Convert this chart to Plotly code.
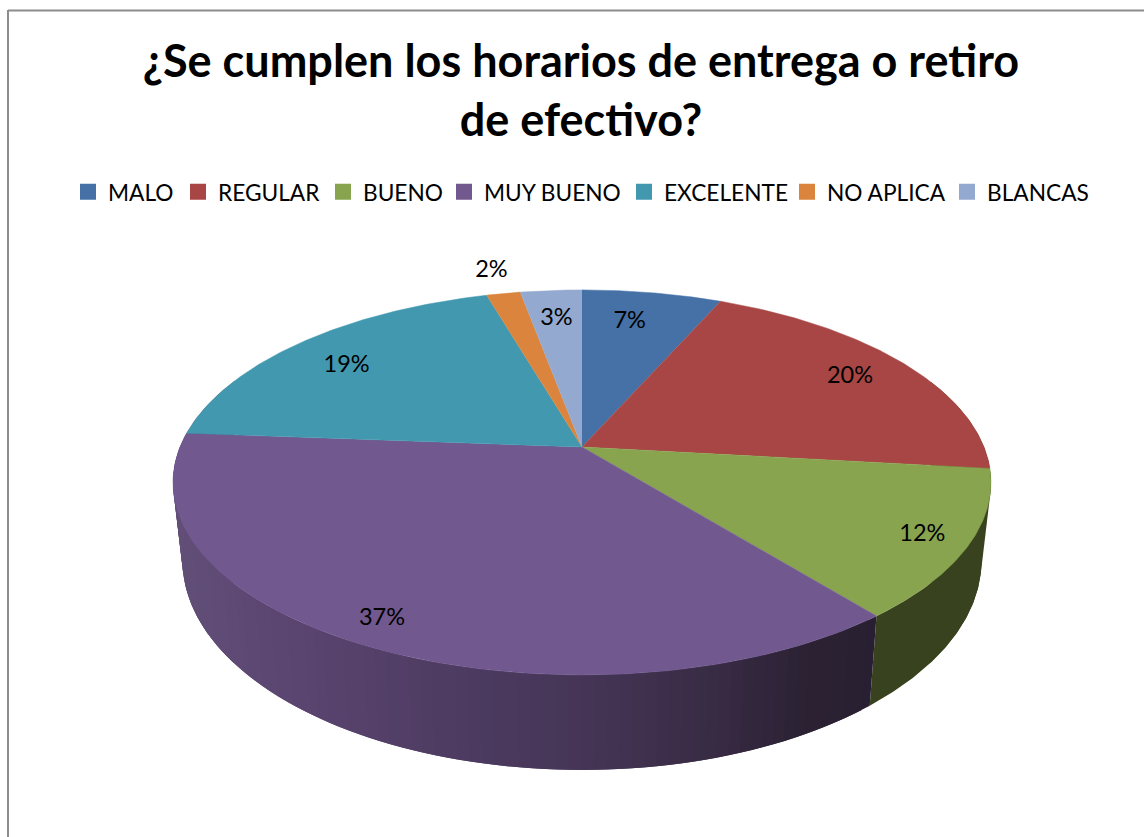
import numpy as np
import plotly.graph_objects as go

TITLE = "¿Se cumplen los horarios de entrega o retiro<br>de efectivo?"
categories = ["MALO", "REGULAR", "BUENO", "MUY BUENO", "EXCELENTE", "NO APLICA", "BLANCAS"]
percent = [6.6, 20.2, 12.4, 37.0, 19.3, 1.6, 2.9]
top_colors = ["#4571A6", "#A74644", "#88A44E", "#71588F", "#4198AF", "#DB843D", "#93A9CF"]
WALL_GREEN = "#38421E"
label_radius = [0.79, 0.827, 0.89, 0.894, 0.80, 1.186, 0.80]
label_turn_deg = [-2.0, 0.0, 0.0, 0.7, -1.9, 0.0, 0.0]
legend_text_left = [107, 217, 362, 483, 663, 826, 986]

# Pixel-scale projection of the tilted disc
CX, CY = 582, 447
A, B, P = 402, 186, 0.184
WALL_SX, WALL_SY, WALL_D = 0.977, 1.09, 74.5
FONT = "Lato"

grad_x = [180, 300, 450, 600, 720, 800, 880]
grad_r = [98, 90, 78, 68, 55, 44, 40]
grad_g = [79, 68, 60, 52, 42, 34, 32]
grad_b = [120, 112, 98, 84, 66, 52, 50]


def project(theta, r=1.0):
    u, v = r * np.sin(theta), r * np.cos(theta)
    w = 1 + P * v
    return CX + A * u / w, CY - B * v / w


def project_bottom(theta):
    x, y = project(theta)
    return CX + WALL_SX * (x - CX), CY + WALL_D + WALL_SY * (y - CY)


def wall_color(x):
    return "rgb(%d,%d,%d)" % (np.interp(x, grad_x, grad_r),
                              np.interp(x, grad_x, grad_g),
                              np.interp(x, grad_x, grad_b))


def polygon(xs, ys, color, width=0.0):
    return go.Scatter(x=list(xs), y=list(ys), mode="lines", fill="toself", fillcolor=color,
                      line=dict(color=color, width=width), hoverinfo="skip", showlegend=False)


def convex_hull(points):
    pts = sorted(set(points))

    def half(seq):
        out = []
        for p in seq:
            while len(out) > 1 and ((out[-1][0] - out[-2][0]) * (p[1] - out[-2][1])
                                    - (out[-1][1] - out[-2][1]) * (p[0] - out[-2][0])) <= 0:
                out.pop()
            out.append(p)
        return out[:-1]

    return half(pts) + half(pts[::-1])


fig = go.Figure()
edges = 2 * np.pi * np.concatenate([[0], np.cumsum(percent)]) / sum(percent)

# Side silhouette slivers: the straight tangents between the upper and lower rim
ring = np.linspace(0, 2 * np.pi, 720)
hull = convex_hull(list(zip(*project(ring))) + list(zip(*project_bottom(ring))))
right = [p for p in hull if p[0] > 930]
left = [p for p in hull if p[0] < 235]
right.sort(key=lambda p: p[1])
left.sort(key=lambda p: p[1])
fig.add_trace(polygon(*zip(*right), WALL_GREEN))
fig.add_trace(polygon(*zip(*left), wall_color(195)))

# Outer wall, green slice
seg = np.linspace(edges[2], edges[3], 80)
xt, yt = project(seg)
xb, yb = project_bottom(seg)
fig.add_trace(polygon(np.concatenate([xt, xb[::-1]]), np.concatenate([yt, yb[::-1]]), WALL_GREEN))

# Outer wall, purple slice with its left-to-right shading (each strip overlapping the next)
ts = np.linspace(edges[3], edges[4], 90)
for k in range(len(ts) - 2):
    seg = np.linspace(ts[k], ts[k + 2], 5)
    xt, yt = project(seg)
    xb, yb = project_bottom(seg)
    xs = np.concatenate([xt, xb[::-1]])
    ys = np.concatenate([yt, yb[::-1]])
    fig.add_trace(polygon(xs, ys, wall_color(xs.mean())))

# Top face
for i, color in enumerate(top_colors):
    seg = np.linspace(edges[i], edges[i + 1], 120)
    xt, yt = project(seg)
    fig.add_trace(polygon(np.concatenate([[CX], xt]), np.concatenate([[CY], yt]), color, 0.5))

# Percentage labels
mids = (edges[:-1] + edges[1:]) / 2 + np.radians(label_turn_deg)
lx, ly = zip(*[project(m, r) for m, r in zip(mids, label_radius)])
fig.add_trace(go.Scatter(x=list(lx), y=[v + 1.5 for v in ly], mode="text",
                         text=[f"{round(p)}%" for p in percent],
                         textposition="middle center",
                         textfont=dict(family=FONT, size=23.5, color="#000000"),
                         hoverinfo="skip", showlegend=False))

# Legend entries: one legend per entry so each sits at its own place on the row
legends = {}
for i, (name, color, left_px) in enumerate(zip(categories, top_colors, legend_text_left)):
    key = "legend" if i == 0 else f"legend{i + 1}"
    fig.add_trace(go.Scatter(x=[None], y=[None], mode="markers", name=name, legend=key, showlegend=True,
                             marker=dict(symbol="square", size=16, color=color)))
    legends[key] = dict(orientation="h", x=(left_px - 39) / 1144, xanchor="left",
                        y=1 - 192 / 837, yanchor="middle",
                        font=dict(family=FONT, size=22.7, color="#000000"), bgcolor="rgba(0,0,0,0)",
                        itemclick=False, itemdoubleclick=False)

fig.update_layout(
    width=1144, height=837, autosize=False,
    margin=dict(l=0, r=0, t=0, b=0),
    paper_bgcolor="white", plot_bgcolor="white",
    title=dict(text=TITLE, x=581 / 1144, xanchor="center", y=1 - 77 / 837, yanchor="middle",
               font=dict(family=FONT, size=45, color="#000000", weight="bold")),
    xaxis=dict(range=[0, 1144], visible=False, fixedrange=True),
    yaxis=dict(range=[837, 0], visible=False, fixedrange=True),
    shapes=[
        dict(type="line", xref="x", yref="y", x0=8, x1=8, y0=10, y1=837, line=dict(color="#8C8C8C", width=2)),
        dict(type="line", xref="x", yref="y", x0=8, x1=1144, y0=10.5, y1=10.5, line=dict(color="#8C8C8C", width=2)),
    ],
    **legends,
)

fig.write_html("out.html", config=dict(displayModeBar=False),
               post_script="document.body.style.margin='0';document.body.style.overflow='hidden';")
